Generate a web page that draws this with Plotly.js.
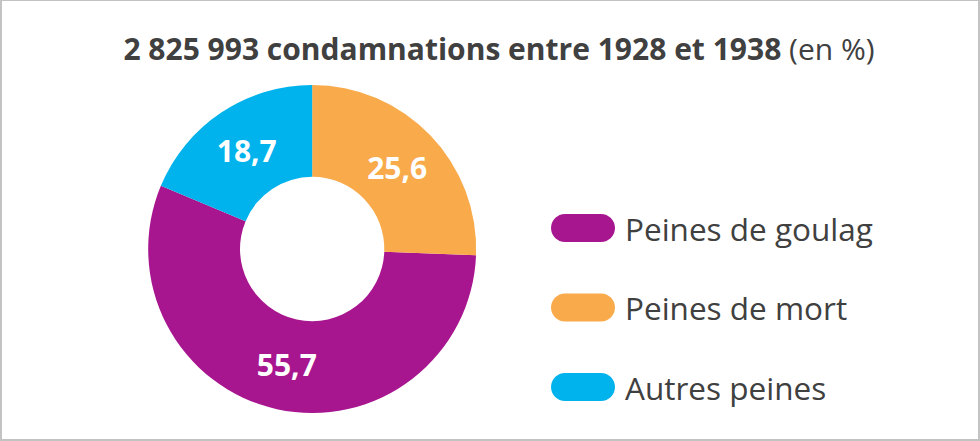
<!DOCTYPE html>
<html>
<head>
<meta charset="utf-8">
<script src="https://cdn.plot.ly/plotly-3.0.1.min.js"></script>
<style>
html, body { margin: 0; padding: 0; background: #fff; }
#chart { width: 980px; height: 441px; box-sizing: border-box; border-style: solid; border-color: #c3c3c3; border-width: 1px 2px 2px 2px; }
</style>
</head>
<body>
<div id="chart"></div>
<script>
// Data
const categories = ["Peines de goulag", "Peines de mort", "Autres peines"];
const values = [55.7, 25.6, 18.7];
const colors = ["#A8168F", "#F9AA4B", "#00B3EC"];
const titleBold = "2 825 993 condamnations entre 1928 et 1938";
const titleUnit = "(en %)";

const FONT = "Open Sans, Noto Sans, sans-serif";
const TXT = "#404040";

const labelsText = values.map(v => v.toFixed(1).replace('.', ','));

const trace = {
  type: 'pie',
  labels: categories,
  values: values,
  text: labelsText,
  textinfo: 'text',
  textposition: 'inside',
  insidetextorientation: 'horizontal',
  textfont: { family: FONT, size: 30, color: '#ffffff', weight: 'bold' },
  marker: { colors: colors, line: { width: 0 } },
  hole: 0.44,
  sort: false,
  direction: 'counterclockwise',
  rotation: 92.16,
  showlegend: false,
  hoverinfo: 'none',
  domain: { x: [0.149, 0.484], y: [0.0658, 0.8095] }
};

// Custom legend (pill swatches + labels) built from the arrays
const shapes = [];
const annotations = [];
const legendX = 581 / 980;
const textX = 621 / 980;
const rowY0 = 227, rowStep = 79.5;
const pill = "M -18,-14 H 18 C 25.7,-14 32,-7.7 32,0 C 32,7.7 25.7,14 18,14 H -18 C -25.7,14 -32,7.7 -32,0 C -32,-7.7 -25.7,-14 -18,-14 Z";
categories.forEach((c, i) => {
  const yPaper = 1 - (rowY0 + i * rowStep) / 441;
  shapes.push({
    type: 'path', xref: 'paper', yref: 'paper',
    xsizemode: 'pixel', ysizemode: 'pixel',
    xanchor: legendX, yanchor: yPaper,
    path: pill, fillcolor: colors[i], line: { width: 0 }
  });
  annotations.push({
    xref: 'paper', yref: 'paper', x: textX, y: yPaper,
    xanchor: 'left', yanchor: 'middle', showarrow: false,
    text: c, font: { family: FONT, size: 31.5, color: TXT }
  });
});

const layout = {
  width: 980, height: 441,
  margin: { l: 0, r: 0, t: 0, b: 0 },
  paper_bgcolor: 'rgba(0,0,0,0)',
  plot_bgcolor: 'rgba(0,0,0,0)',
  title: {
    text: "<b>" + titleBold + "</b> " + titleUnit,
    font: { family: FONT, size: 30, color: TXT },
    x: 497 / 980, xanchor: 'center',
    y: 1 - 48 / 441, yanchor: 'middle'
  },
  shapes: shapes,
  annotations: annotations
};

Plotly.newPlot('chart', [trace], layout, { displayModeBar: false, staticPlot: true });
</script>
</body>
</html>
